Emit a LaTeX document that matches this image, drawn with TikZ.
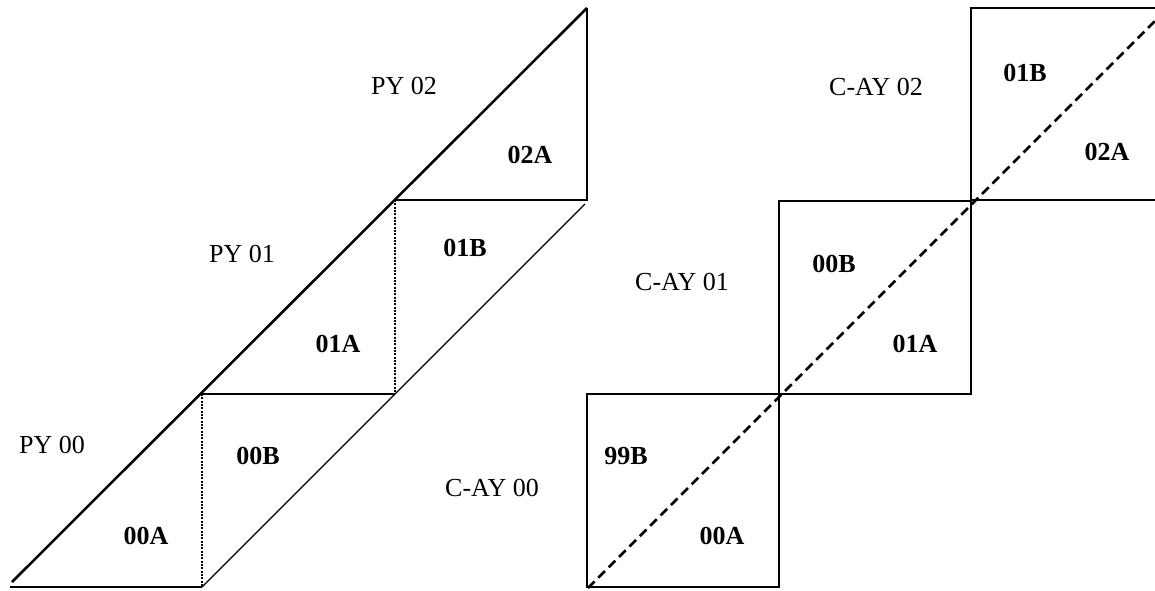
\documentclass[tikz,border=0pt]{standalone}
\usepackage{fontspec}
\setmainfont{Liberation Serif}
\begin{document}
\begin{tikzpicture}[x=0.75pt,y=-0.75pt,
  thickline/.style={line width=1.9pt},
  thinline/.style={line width=1pt},
  dotline/.style={line width=2pt,dash pattern=on 1.6pt off 0.9pt},
  dashline/.style={line width=1.9pt,dash pattern=on 7pt off 4pt},
  lab/.style={inner sep=0pt,font=\fontsize{19.5}{23}\selectfont},
  blab/.style={inner sep=0pt,font=\fontsize{19.5}{23}\selectfont\bfseries}]
\useasboundingbox (0,0) rectangle (1155,590);
% left figure coordinates
\coordinate (d0) at (12,582);
\coordinate (d3) at (587,8);
\coordinate (r2) at (587,200);
\coordinate (h2) at (395,200);
\coordinate (h1a) at (202,394);
\coordinate (h1b) at (395,394);
\coordinate (b0) at (10,587);
\coordinate (b1) at (202,587);
\coordinate (t1) at (585,204);
% left figure
\draw[thickline] (d0) -- (d3);
\draw[thickline] (d3) -- (r2) -- (h2);
\draw[thickline] (h1a) -- (h1b);
\draw[thickline] (b0) -- (b1);
\draw[thinline] (b1) -- (t1);
\draw[dotline] (h1a) -- (b1);
\draw[dotline] (h2) -- (h1b);
\node[lab] (py0) at (52,445) {PY 00};
\node[lab] (py1) at (242,254) {PY 01};
\node[lab] (py2) at (404,86) {PY 02};
\node[blab] (l00a) at (146,536) {00A};
\node[blab] (l00b) at (258,456) {00B};
\node[blab] (l01a) at (338,344) {01A};
\node[blab] (l01b) at (465,248) {01B};
\node[blab] (l02a) at (530,155) {02A};
% right figure coordinates
\coordinate (s1a) at (587,394);
\coordinate (s1b) at (779,587);
\coordinate (s2a) at (779,201);
\coordinate (s2b) at (971,394);
\coordinate (s3tl) at (971,8);
\coordinate (s3tr) at (1155,8);
\coordinate (s3bl) at (971,200);
\coordinate (s3br) at (1155,200);
\coordinate (q0) at (588,588);
\coordinate (q1) at (1155,21);
\draw[thickline] (s1a) rectangle (s1b);
\draw[thickline] (s2a) rectangle (s2b);
\draw[thickline] (s3tr) -- (s3tl) -- (s3bl) -- (s3br);
\draw[dashline] (q0) -- (q1);
\node[lab] (ca0) at (492,488) {C-AY 00};
\node[lab] (ca1) at (682,282) {C-AY 01};
\node[lab] (ca2) at (876,87) {C-AY 02};
\node[blab] (r99b) at (626,456) {99B};
\node[blab] (r00a) at (722,536) {00A};
\node[blab] (r00b) at (834,264) {00B};
\node[blab] (r01a) at (915,344) {01A};
\node[blab] (r01b) at (1025,73) {01B};
\node[blab] (r02a) at (1107,152) {02A};
\end{tikzpicture}
\end{document}
